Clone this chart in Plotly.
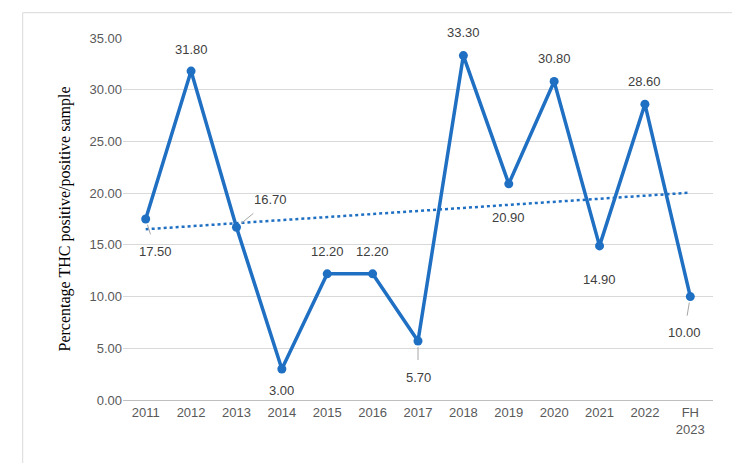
import plotly.graph_objects as go
import numpy as np

years = ["2011","2012","2013","2014","2015","2016","2017","2018","2019","2020","2021","2022","FH<br>2023"]
values = [17.5,31.8,16.7,3.0,12.2,12.2,5.7,33.3,20.9,30.8,14.9,28.6,10.0]
# label offsets (ax, ay) and whether leader line shown
offsets = [(10,32,True),(0,-22,False),(34,-28,True),(0,22,False),(0,-22,False),(0,-22,False),
           (0,36,True),(0,-23,False),(0,34,False),(0,-23,False),(0,34,False),(0,-23,False),(-6,36,True)]

idx = np.arange(len(values))
m, b = np.polyfit(idx, values, 1)
trend = m*idx + b

blue = "#1F6FC3"
fig = go.Figure()
fig.add_trace(go.Scatter(x=idx, y=trend, mode="lines", line=dict(color=blue, width=2.5, dash="dot"), hoverinfo="skip"))
fig.add_trace(go.Scatter(x=idx, y=values, mode="lines+markers", line=dict(color=blue, width=3.5),
                         marker=dict(size=9, color=blue)))
for i, v, (ax, ay, line) in zip(idx, values, offsets):
    fig.add_annotation(x=int(i), y=v, text=f"{v:.2f}", showarrow=True, ax=ax, ay=ay, arrowhead=0,
                       arrowwidth=1, arrowcolor="#A6A6A6" if line else "rgba(0,0,0,0)",
                       standoff=6, startstandoff=8,
                       font=dict(family="Liberation Sans", size=13, color="#404040"))
fig.update_layout(
    width=740, height=463, showlegend=False, plot_bgcolor="white", paper_bgcolor="white",
    margin=dict(l=115, r=35, t=30, b=71),
    xaxis=dict(range=[-0.5, 12.5], tickvals=list(idx), ticktext=years,
               showline=True, linecolor="#BFBFBF", linewidth=1, showgrid=False, zeroline=False,
               tickfont=dict(family="Liberation Sans", size=13, color="#595959"), ticks=""),
    yaxis=dict(range=[0,35], dtick=5, tickformat=".2f", gridcolor="#D9D9D9", zeroline=False,
               tickfont=dict(family="Liberation Sans", size=13, color="#595959"),
               title=dict(text="Percentage THC positive/positive sample", standoff=14,
                          font=dict(family="Liberation Serif", size=16, color="black"))),
)
fig.add_shape(type="rect", xref="paper", yref="paper", x0=-0.17, x1=1.045, y0=-0.18, y1=1.07,
              line=dict(color="#D9D9D9", width=1))
fig.write_html("out.html")
